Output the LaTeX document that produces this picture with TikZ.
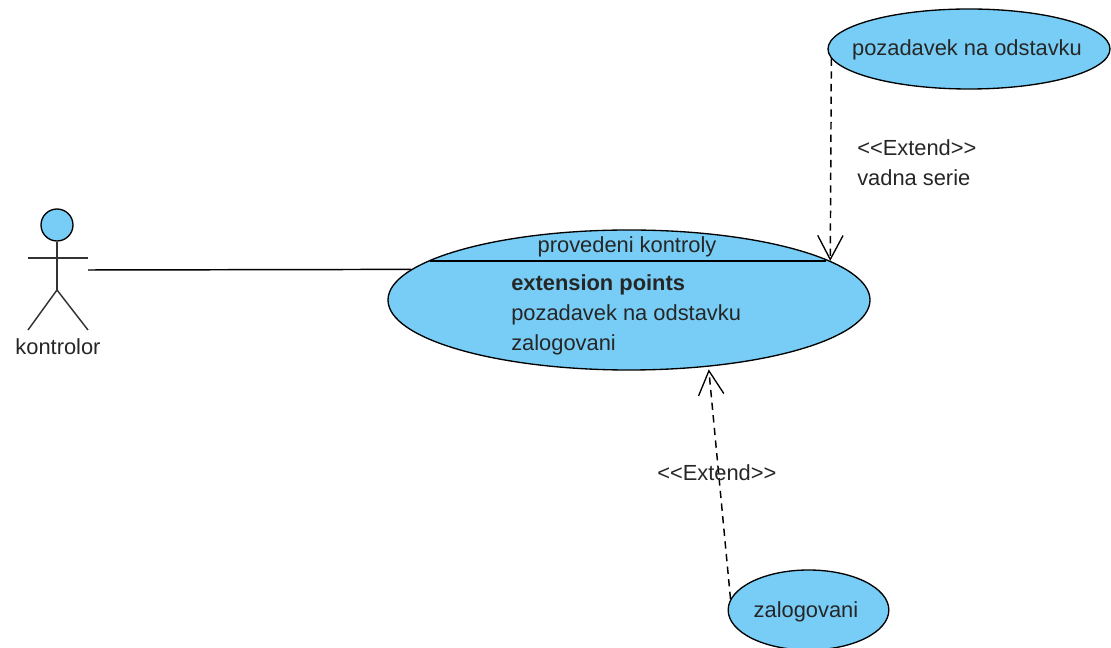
\documentclass[tikz,border=0pt]{standalone}
\usepackage{fontspec}
\setmainfont{Liberation Sans}
\usetikzlibrary{arrows.meta}
\usetikzlibrary{positioning}
\usetikzlibrary{shapes.geometric}
\definecolor{usecase}{HTML}{77CDF5}
\definecolor{umltext}{HTML}{262626}
\tikzset{
	every node/.style={align=left, font=\fontsize{16.4pt}{19pt}\selectfont, text=umltext},
	%
	case/.style={ellipse, draw, fill=usecase, line width=1pt, inner sep=0pt},
	label text/.style={inner sep=0pt, anchor=west},
	stick/.style={line width=1.1pt, draw=black!80},
	extend/.style={dash pattern=on 5.5pt off 4pt, line width=1.1pt,
		-{Straight Barb[length=18pt, width=19pt, line width=1pt]}},
}
\begin{document}
\begin{tikzpicture}[x=0.75pt, y=-0.75pt]
		\useasboundingbox (0,0) rectangle (1111,648);
		\node (kontrola) [case, minimum width=361.5pt, minimum height=105pt] at (629,300) {};
		\node (odstavka) [case, minimum width=211.5pt, minimum height=60pt] at (969,49) {};
		\node (odstavka-name) [inner sep=0pt] at (967,50) {pozadavek na odstavku};
		\node (zalogovani) [case, minimum width=120.5pt, minimum height=60pt] at (808.5,610) {};
		\node (zalogovani-name) [inner sep=0pt] at (806,612) {zalogovani};
		\draw [line width=1.1pt, shorten <=2pt, shorten >=3pt] (kontrola.169) -- (kontrola.11);
		\node (kontrola-name) at (627,247) [inner sep=0pt] {provedeni kontroly};
		\node (points) [label text] at (511,285) {\textbf{extension points}};
		\node (point-a) [label text] at (511,315) {pozadavek na odstavku};
		\node (point-b) [label text] at (511,345) {zalogovani};
		% actor
		\node (head) [circle, draw, fill=usecase, line width=1pt, inner sep=0pt,
			minimum size=24pt] at (57,225) {};
		\coordinate (neck) at (57,290);
		\coordinate (arm-l) at (28,258);
		\coordinate (arm-r) at (88,258);
		\coordinate (leg-l) at (28,330);
		\coordinate (leg-r) at (88,330);
		\coordinate (actor-end) at (88,270);
		\draw [stick] (head) -- (neck);
		\draw [stick] (arm-l) -- (arm-r);
		\draw [stick] (leg-l) -- (neck) -- (leg-r);
		\node (kontrolor) at (58,347) [inner sep=0pt] {kontrolor};
		%
		\draw [line width=1.1pt] (actor-end) -- (kontrola.172.2);
		\draw [extend] (odstavka.184.7) -- (kontrola.11.05);
		\draw [extend, shorten >=2pt] (zalogovani.172.7) -- (kontrola.320);
		\node (extend-a) [label text] at (857,148) {<{}<Extend>{}>};
		\node (guard) [label text] at (857,178) {vadna serie};
		\node (extend-b) [label text] at (657,473) {<{}<Extend>{}>};
	\end{tikzpicture}
\end{document}
